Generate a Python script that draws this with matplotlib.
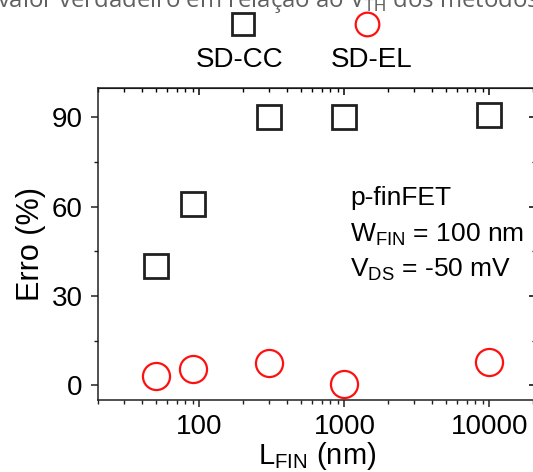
"""
Erro (%) vs L_FIN for SD-CC and SD-EL methods
"""
import numpy as np
import matplotlib
matplotlib.use('Agg')
import matplotlib.pyplot as plt
from matplotlib.ticker import LogLocator, FixedLocator, NullFormatter

plt.rcParams['font.family'] = ['Liberation Sans', 'DejaVu Sans']
plt.rcParams['mathtext.fontset'] = 'custom'
plt.rcParams['mathtext.rm'] = 'Liberation Sans'

# Data
l_fin = [50, 90, 300, 1000, 10000]
erro_sdcc = [40, 61, 90, 90, 90.7]
erro_sdel = [3, 5.4, 7.4, 0.5, 7.8]

x_ticks = [100, 1000, 10000]
y_ticks = [0, 30, 60, 90]

fig = plt.figure(figsize=(5.33, 4.72), dpi=100)
ax = fig.add_axes([0.1839, 0.1525, 0.822, 0.6617])

ax.plot(l_fin, erro_sdcc, linestyle='none', marker='s', markersize=17,
        markerfacecolor='none', markeredgecolor='#202020', markeredgewidth=2.0)
ax.plot(l_fin, erro_sdel, linestyle='none', marker='o', markersize=19.5,
        markerfacecolor='none', markeredgecolor='#ff1010', markeredgewidth=1.6)

ax.set_xscale('log')
ax.set_xlim(20, 21000)
ax.set_ylim(-5, 100)
ax.xaxis.set_major_locator(FixedLocator(x_ticks))
ax.xaxis.set_minor_locator(LogLocator(base=10, subs=np.arange(2, 10)))
ax.xaxis.set_minor_formatter(NullFormatter())
ax.set_xticklabels([str(v) for v in x_ticks])
ax.set_yticks(y_ticks)
ax.yaxis.set_minor_locator(FixedLocator([15, 45, 75]))

for sp in ax.spines.values():
    sp.set_linewidth(1.1)
    sp.set_color('#202020')

ax.tick_params(axis='both', which='major', labelsize=20, length=5, width=1.1,
               color='#202020')
ax.tick_params(axis='x', which='major', pad=5)
ax.tick_params(axis='y', which='major', pad=6)
ax.tick_params(axis='both', which='minor', length=3, width=1.0, color='#202020')
ax.tick_params(axis='both', which='both', direction='out', top=False, right=False)

# inward ticks on top and right
ax_top = ax.secondary_xaxis('top')
ax_top.set_xticks(x_ticks)
ax_top.xaxis.set_minor_locator(LogLocator(base=10, subs=np.arange(2, 10)))
ax_top.xaxis.set_minor_formatter(NullFormatter())
ax_top.tick_params(which='major', direction='in', length=5, width=1.1)
ax_top.tick_params(which='minor', direction='in', length=3, width=1.0)
ax_top.set_xticklabels([])
ax_right = ax.secondary_yaxis('right')
ax_right.set_yticks(y_ticks)
ax_right.yaxis.set_minor_locator(FixedLocator([15, 45, 75]))
ax_right.tick_params(which='major', direction='in', length=5, width=1.1)
ax_right.tick_params(which='minor', direction='in', length=3, width=1.0)
ax_right.set_yticklabels([])

ax.set_ylabel('Erro (%)', fontsize=22, labelpad=4)
ax.set_xlabel(r'L$_{\mathregular{FIN}}$ (nm)', fontsize=21, labelpad=0)

ax.text(0.575, 0.625, 'p-finFET', transform=ax.transAxes, fontsize=19,
        va='baseline', ha='left')
ax.text(0.575, 0.506, r'W$_{\mathregular{FIN}}$ = 100 nm', transform=ax.transAxes,
        fontsize=19, va='baseline', ha='left')
ax.text(0.575, 0.394, r'V$_{\mathregular{DS}}$ = -50 mV', transform=ax.transAxes,
        fontsize=19, va='baseline', ha='left')

# legend drawn above the axes, as in the original
fig.lines.append(plt.Line2D([243 / 533], [1 - 24 / 472], transform=fig.transFigure,
                            linestyle='none', marker='s', markersize=16,
                            markerfacecolor='none', markeredgecolor='#202020',
                            markeredgewidth=2.0))
fig.lines.append(plt.Line2D([367 / 533], [1 - 24 / 472], transform=fig.transFigure,
                            linestyle='none', marker='o', markersize=17,
                            markerfacecolor='none', markeredgecolor='#ff1010',
                            markeredgewidth=1.6))
fig.text(240 / 533, 1 - 60 / 472, 'SD-CC', fontsize=20, ha='center', va='center')
fig.text(372 / 533, 1 - 60 / 472, 'SD-EL', fontsize=20, ha='center', va='center')

# clipped caption line from the source document
fig.text(-0.005, 1 - 7 / 472, r'valor verdadeiro em relação ao V$_{\mathrm{TH}}$ dos métodos',
         fontsize=17.2, color='#606060', ha='left', va='baseline',
         family=['Open Sans', 'DejaVu Sans'])

fig.savefig('out.png', dpi=100)
